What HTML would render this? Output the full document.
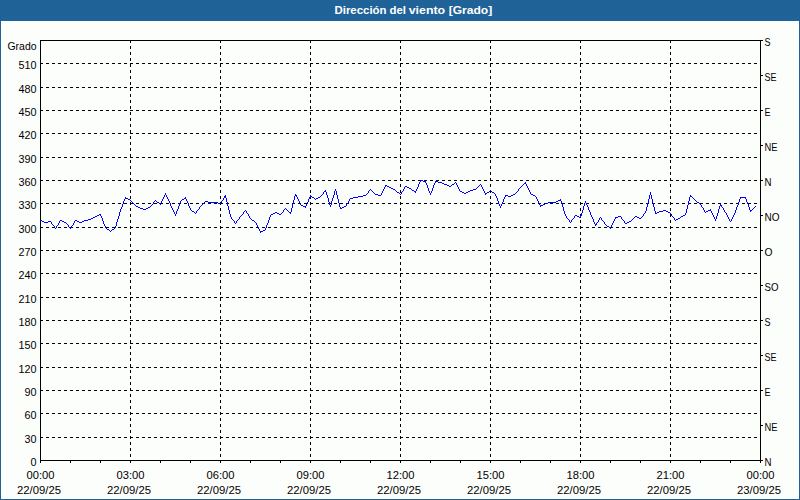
<!DOCTYPE html>
<html><head><meta charset="utf-8"><title>Dirección del viento [Grado]</title>
<style>
html,body{margin:0;padding:0;background:#fff;}
body{width:800px;height:500px;overflow:hidden;font-family:"Liberation Sans",sans-serif;}
svg{display:block;}
text{font-family:"Liberation Sans",sans-serif;font-size:11px;fill:#000;}
.t{font-weight:bold;fill:#fff;}
</style></head><body>
<svg width="800" height="500" viewBox="0 0 800 500">
<defs><pattern id="dth" x="0" y="0" width="4" height="4" patternUnits="userSpaceOnUse"><rect width="4" height="4" fill="#1f6296"/><rect x="1" y="0" width="1" height="1" fill="#2164aa"/><rect x="3" y="2" width="1" height="1" fill="#2164aa"/></pattern></defs>
<rect x="0" y="0" width="800" height="500" fill="#1f6299"/>
<rect x="0" y="0" width="800" height="21" fill="url(#dth)" shape-rendering="crispEdges"/>
<rect x="1" y="21" width="798" height="478" fill="#fff"/>
<rect x="2" y="22" width="796" height="476" fill="#fcfefc"/>
<g shape-rendering="crispEdges" stroke="#000" stroke-width="1" fill="none">
<line x1="40" y1="437.5" x2="760" y2="437.5" stroke-dasharray="3 3"/>
<line x1="40" y1="413.5" x2="760" y2="413.5" stroke-dasharray="3 3"/>
<line x1="40" y1="390.5" x2="760" y2="390.5" stroke-dasharray="3 3"/>
<line x1="40" y1="367.5" x2="760" y2="367.5" stroke-dasharray="3 3"/>
<line x1="40" y1="343.5" x2="760" y2="343.5" stroke-dasharray="3 3"/>
<line x1="40" y1="320.5" x2="760" y2="320.5" stroke-dasharray="3 3"/>
<line x1="40" y1="297.5" x2="760" y2="297.5" stroke-dasharray="3 3"/>
<line x1="40" y1="273.5" x2="760" y2="273.5" stroke-dasharray="3 3"/>
<line x1="40" y1="250.5" x2="760" y2="250.5" stroke-dasharray="3 3"/>
<line x1="40" y1="227.5" x2="760" y2="227.5" stroke-dasharray="3 3"/>
<line x1="40" y1="203.5" x2="760" y2="203.5" stroke-dasharray="3 3"/>
<line x1="40" y1="180.5" x2="760" y2="180.5" stroke-dasharray="3 3"/>
<line x1="40" y1="157.5" x2="760" y2="157.5" stroke-dasharray="3 3"/>
<line x1="40" y1="133.5" x2="760" y2="133.5" stroke-dasharray="3 3"/>
<line x1="40" y1="110.5" x2="760" y2="110.5" stroke-dasharray="3 3"/>
<line x1="40" y1="87.5" x2="760" y2="87.5" stroke-dasharray="3 3"/>
<line x1="40" y1="63.5" x2="760" y2="63.5" stroke-dasharray="3 3"/>
<line x1="130.5" y1="40" x2="130.5" y2="460" stroke-dasharray="3 3"/>
<line x1="220.5" y1="40" x2="220.5" y2="460" stroke-dasharray="3 3"/>
<line x1="310.5" y1="40" x2="310.5" y2="460" stroke-dasharray="3 3"/>
<line x1="400.5" y1="40" x2="400.5" y2="460" stroke-dasharray="3 3"/>
<line x1="490.5" y1="40" x2="490.5" y2="460" stroke-dasharray="3 3"/>
<line x1="580.5" y1="40" x2="580.5" y2="460" stroke-dasharray="3 3"/>
<line x1="670.5" y1="40" x2="670.5" y2="460" stroke-dasharray="3 3"/>
<rect x="40.5" y="40.5" width="720" height="420"/>
<line x1="40.5" y1="461" x2="40.5" y2="463"/>
<line x1="70.5" y1="461" x2="70.5" y2="463"/>
<line x1="100.5" y1="461" x2="100.5" y2="463"/>
<line x1="130.5" y1="461" x2="130.5" y2="463"/>
<line x1="160.5" y1="461" x2="160.5" y2="463"/>
<line x1="190.5" y1="461" x2="190.5" y2="463"/>
<line x1="220.5" y1="461" x2="220.5" y2="463"/>
<line x1="250.5" y1="461" x2="250.5" y2="463"/>
<line x1="280.5" y1="461" x2="280.5" y2="463"/>
<line x1="310.5" y1="461" x2="310.5" y2="463"/>
<line x1="340.5" y1="461" x2="340.5" y2="463"/>
<line x1="370.5" y1="461" x2="370.5" y2="463"/>
<line x1="400.5" y1="461" x2="400.5" y2="463"/>
<line x1="430.5" y1="461" x2="430.5" y2="463"/>
<line x1="460.5" y1="461" x2="460.5" y2="463"/>
<line x1="490.5" y1="461" x2="490.5" y2="463"/>
<line x1="520.5" y1="461" x2="520.5" y2="463"/>
<line x1="550.5" y1="461" x2="550.5" y2="463"/>
<line x1="580.5" y1="461" x2="580.5" y2="463"/>
<line x1="610.5" y1="461" x2="610.5" y2="463"/>
<line x1="640.5" y1="461" x2="640.5" y2="463"/>
<line x1="670.5" y1="461" x2="670.5" y2="463"/>
<line x1="700.5" y1="461" x2="700.5" y2="463"/>
<line x1="730.5" y1="461" x2="730.5" y2="463"/>
<line x1="760.5" y1="461" x2="760.5" y2="463"/>
<line x1="761" y1="40.5" x2="763" y2="40.5"/>
<line x1="761" y1="75.5" x2="763" y2="75.5"/>
<line x1="761" y1="110.5" x2="763" y2="110.5"/>
<line x1="761" y1="145.5" x2="763" y2="145.5"/>
<line x1="761" y1="180.5" x2="763" y2="180.5"/>
<line x1="761" y1="215.5" x2="763" y2="215.5"/>
<line x1="761" y1="250.5" x2="763" y2="250.5"/>
<line x1="761" y1="285.5" x2="763" y2="285.5"/>
<line x1="761" y1="320.5" x2="763" y2="320.5"/>
<line x1="761" y1="355.5" x2="763" y2="355.5"/>
<line x1="761" y1="390.5" x2="763" y2="390.5"/>
<line x1="761" y1="425.5" x2="763" y2="425.5"/>
<line x1="761" y1="460.5" x2="763" y2="460.5"/>
</g>
<path shape-rendering="crispEdges" fill="none" stroke="#0000ff" stroke-width="1" d="M40.5 220v1M41.5 220v1M42.5 221v1M43.5 221v1M44.5 222v1M45.5 222v1M46.5 222v1M47.5 222v1M48.5 221v1M49.5 221v1M50.5 221v1M51.5 222v2M52.5 224v1M53.5 225v1M54.5 226v2M55.5 228v1M56.5 226v2M57.5 225v1M58.5 223v2M59.5 221v2M60.5 220v1M61.5 220v1M62.5 221v1M63.5 221v1M64.5 222v1M65.5 222v1M66.5 223v1M67.5 224v1M68.5 225v2M69.5 227v1M70.5 228v1M71.5 226v2M72.5 225v1M73.5 223v2M74.5 221v2M75.5 220v1M76.5 220v1M77.5 221v1M78.5 221v1M79.5 222v1M80.5 222v1M81.5 222v1M82.5 221v1M83.5 221v1M84.5 220v1M85.5 220v1M86.5 220v1M87.5 220v1M88.5 219v1M89.5 219v1M90.5 219v1M91.5 218v1M92.5 218v1M93.5 217v1M94.5 217v1M95.5 216v1M96.5 216v1M97.5 215v1M98.5 215v1M99.5 214v1M100.5 214v2M101.5 216v2M102.5 218v3M103.5 221v3M104.5 224v2M105.5 226v2M106.5 228v1M107.5 229v1M108.5 229v1M109.5 230v1M110.5 231v1M111.5 230v1M112.5 229v1M113.5 229v1M114.5 228v1M115.5 226v2M116.5 222v4M117.5 219v3M118.5 216v3M119.5 212v4M120.5 209v3M121.5 207v2M122.5 204v3M123.5 201v3M124.5 199v2M125.5 197v2M126.5 198v1M127.5 198v1M128.5 199v1M129.5 199v1M130.5 200v1M131.5 201v1M132.5 202v1M133.5 203v1M134.5 204v1M135.5 205v1M136.5 206v1M137.5 206v1M138.5 207v1M139.5 207v1M140.5 208v1M141.5 208v1M142.5 208v1M143.5 209v1M144.5 209v1M145.5 209v1M146.5 208v1M147.5 208v1M148.5 207v1M149.5 207v1M150.5 206v1M151.5 205v1M152.5 204v1M153.5 202v2M154.5 201v1M155.5 200v1M156.5 201v1M157.5 202v1M158.5 202v1M159.5 203v1M160.5 203v2M161.5 201v2M162.5 199v2M163.5 197v2M164.5 195v2M165.5 193v2M166.5 195v2M167.5 197v2M168.5 199v2M169.5 201v2M170.5 203v3M171.5 206v2M172.5 208v2M173.5 210v2M174.5 212v2M175.5 214v2M176.5 211v3M177.5 209v2M178.5 206v3M179.5 203v3M180.5 201v2M181.5 200v1M182.5 199v1M183.5 199v1M184.5 198v1M185.5 197v2M186.5 199v2M187.5 201v2M188.5 203v3M189.5 206v2M190.5 208v2M191.5 210v1M192.5 211v1M193.5 211v1M194.5 212v1M195.5 213v1M196.5 211v2M197.5 210v1M198.5 209v1M199.5 207v2M200.5 206v1M201.5 205v1M202.5 204v1M203.5 203v1M204.5 202v1M205.5 201v1M206.5 201v1M207.5 201v1M208.5 202v1M209.5 202v1M210.5 202v1M211.5 202v1M212.5 202v1M213.5 202v1M214.5 202v1M215.5 202v1M216.5 202v1M217.5 202v1M218.5 203v1M219.5 203v1M220.5 203v1M221.5 201v2M222.5 200v1M223.5 198v2M224.5 196v2M225.5 195v3M226.5 198v4M227.5 202v4M228.5 206v4M229.5 210v4M230.5 214v3M231.5 217v2M232.5 219v1M233.5 220v1M234.5 221v2M235.5 223v1M236.5 221v2M237.5 220v1M238.5 219v1M239.5 217v2M240.5 216v1M241.5 215v1M242.5 214v1M243.5 212v2M244.5 211v1M245.5 210v1M246.5 211v2M247.5 213v1M248.5 214v2M249.5 216v2M250.5 218v1M251.5 219v1M252.5 220v1M253.5 220v1M254.5 221v1M255.5 222v1M256.5 223v2M257.5 225v2M258.5 227v2M259.5 229v2M260.5 231v2M261.5 231v1M262.5 231v1M263.5 230v1M264.5 230v1M265.5 228v2M266.5 225v3M267.5 223v2M268.5 220v3M269.5 217v3M270.5 215v2M271.5 214v1M272.5 214v1M273.5 213v1M274.5 213v1M275.5 212v1M276.5 212v1M277.5 213v1M278.5 213v1M279.5 214v1M280.5 214v1M281.5 213v1M282.5 212v1M283.5 210v2M284.5 209v1M285.5 208v1M286.5 209v1M287.5 210v1M288.5 211v1M289.5 212v1M290.5 212v2M291.5 208v4M292.5 204v4M293.5 200v4M294.5 196v4M295.5 194v2M296.5 195v2M297.5 197v2M298.5 199v2M299.5 201v2M300.5 203v2M301.5 205v1M302.5 205v1M303.5 206v1M304.5 206v1M305.5 206v2M306.5 204v2M307.5 202v2M308.5 199v3M309.5 197v2M310.5 195v2M311.5 196v1M312.5 197v1M313.5 197v1M314.5 198v1M315.5 199v1M316.5 198v1M317.5 198v1M318.5 197v1M319.5 197v1M320.5 196v1M321.5 195v1M322.5 194v1M323.5 192v2M324.5 191v1M325.5 190v2M326.5 192v3M327.5 195v3M328.5 198v4M329.5 202v3M330.5 205v2M331.5 201v4M332.5 198v3M333.5 195v3M334.5 191v4M335.5 189v2M336.5 191v4M337.5 195v4M338.5 199v4M339.5 203v4M340.5 207v2M341.5 208v1M342.5 207v1M343.5 207v1M344.5 206v1M345.5 206v1M346.5 204v2M347.5 203v1M348.5 201v2M349.5 199v2M350.5 198v1M351.5 198v1M352.5 198v1M353.5 197v1M354.5 197v1M355.5 197v1M356.5 197v1M357.5 197v1M358.5 196v1M359.5 196v1M360.5 196v1M361.5 196v1M362.5 196v1M363.5 195v1M364.5 195v1M365.5 195v1M366.5 194v1M367.5 193v1M368.5 191v2M369.5 190v1M370.5 189v1M371.5 190v1M372.5 191v1M373.5 192v1M374.5 193v1M375.5 194v1M376.5 194v1M377.5 194v1M378.5 195v1M379.5 195v1M380.5 195v1M381.5 193v2M382.5 191v2M383.5 189v2M384.5 187v2M385.5 185v2M386.5 185v1M387.5 186v1M388.5 186v1M389.5 187v1M390.5 187v1M391.5 188v1M392.5 188v1M393.5 189v1M394.5 189v1M395.5 190v1M396.5 191v1M397.5 192v1M398.5 192v1M399.5 193v1M400.5 194v1M401.5 192v2M402.5 191v1M403.5 189v2M404.5 187v2M405.5 186v1M406.5 186v1M407.5 187v1M408.5 187v1M409.5 188v1M410.5 188v1M411.5 189v1M412.5 190v1M413.5 190v1M414.5 191v1M415.5 191v2M416.5 189v2M417.5 187v2M418.5 184v3M419.5 182v2M420.5 180v2M421.5 180v1M422.5 180v1M423.5 181v1M424.5 181v1M425.5 181v2M426.5 183v2M427.5 185v3M428.5 188v3M429.5 191v2M430.5 193v2M431.5 191v2M432.5 188v3M433.5 185v3M434.5 183v2M435.5 181v2M436.5 181v1M437.5 181v1M438.5 182v1M439.5 182v1M440.5 182v1M441.5 182v1M442.5 183v1M443.5 183v1M444.5 184v1M445.5 184v1M446.5 184v1M447.5 185v1M448.5 185v1M449.5 186v1M450.5 186v1M451.5 185v1M452.5 184v1M453.5 184v1M454.5 183v1M455.5 182v1M456.5 183v2M457.5 185v2M458.5 187v2M459.5 189v2M460.5 191v1M461.5 191v1M462.5 192v1M463.5 192v1M464.5 193v1M465.5 193v1M466.5 192v1M467.5 192v1M468.5 191v1M469.5 191v1M470.5 190v1M471.5 190v1M472.5 190v1M473.5 189v1M474.5 189v1M475.5 189v1M476.5 188v1M477.5 187v1M478.5 186v1M479.5 185v1M480.5 184v1M481.5 185v2M482.5 187v2M483.5 189v2M484.5 191v2M485.5 193v2M486.5 193v1M487.5 192v1M488.5 192v1M489.5 191v1M490.5 190v1M491.5 191v1M492.5 192v1M493.5 192v1M494.5 193v1M495.5 194v2M496.5 196v2M497.5 198v3M498.5 201v3M499.5 204v2M500.5 206v2M501.5 204v2M502.5 202v2M503.5 199v3M504.5 197v2M505.5 195v2M506.5 195v1M507.5 195v1M508.5 196v1M509.5 196v1M510.5 196v1M511.5 195v1M512.5 195v1M513.5 194v1M514.5 194v1M515.5 193v1M516.5 192v1M517.5 191v1M518.5 189v2M519.5 188v1M520.5 187v1M521.5 186v1M522.5 185v1M523.5 184v1M524.5 183v1M525.5 182v2M526.5 184v2M527.5 186v2M528.5 188v2M529.5 190v2M530.5 192v2M531.5 194v1M532.5 194v1M533.5 195v1M534.5 195v1M535.5 196v1M536.5 197v2M537.5 199v2M538.5 201v2M539.5 203v2M540.5 205v2M541.5 205v1M542.5 205v1M543.5 204v1M544.5 204v1M545.5 203v1M546.5 203v1M547.5 203v1M548.5 202v1M549.5 202v1M550.5 202v1M551.5 202v1M552.5 202v1M553.5 202v1M554.5 202v1M555.5 202v1M556.5 201v1M557.5 201v1M558.5 200v1M559.5 200v1M560.5 199v2M561.5 201v3M562.5 204v3M563.5 207v4M564.5 211v3M565.5 214v2M566.5 216v2M567.5 218v1M568.5 219v1M569.5 220v2M570.5 222v1M571.5 220v2M572.5 219v1M573.5 218v1M574.5 216v2M575.5 215v1M576.5 215v1M577.5 216v1M578.5 216v1M579.5 217v1M580.5 216v2M581.5 213v3M582.5 210v3M583.5 206v4M584.5 203v3M585.5 201v2M586.5 203v2M587.5 205v2M588.5 207v3M589.5 210v2M590.5 212v3M591.5 215v2M592.5 217v2M593.5 219v3M594.5 222v2M595.5 224v2M596.5 223v2M597.5 222v1M598.5 220v2M599.5 218v2M600.5 217v1M601.5 218v2M602.5 220v1M603.5 221v1M604.5 222v2M605.5 224v1M606.5 225v1M607.5 226v1M608.5 226v1M609.5 227v1M610.5 227v2M611.5 225v2M612.5 223v2M613.5 221v2M614.5 219v2M615.5 217v2M616.5 217v1M617.5 217v1M618.5 216v1M619.5 216v1M620.5 216v1M621.5 217v2M622.5 219v1M623.5 220v1M624.5 221v2M625.5 223v1M626.5 223v1M627.5 222v1M628.5 222v1M629.5 221v1M630.5 221v1M631.5 220v1M632.5 219v1M633.5 218v1M634.5 217v1M635.5 216v1M636.5 216v1M637.5 217v1M638.5 217v1M639.5 218v1M640.5 218v1M641.5 217v1M642.5 216v1M643.5 214v2M644.5 213v1M645.5 211v2M646.5 207v4M647.5 203v4M648.5 199v4M649.5 195v4M650.5 192v3M651.5 195v4M652.5 199v4M653.5 203v4M654.5 207v4M655.5 211v3M656.5 213v1M657.5 212v1M658.5 212v1M659.5 211v1M660.5 211v1M661.5 211v1M662.5 211v1M663.5 210v1M664.5 210v1M665.5 210v1M666.5 211v1M667.5 211v1M668.5 212v1M669.5 212v1M670.5 213v1M671.5 214v2M672.5 216v1M673.5 217v1M674.5 218v2M675.5 220v1M676.5 219v1M677.5 219v1M678.5 218v1M679.5 218v1M680.5 217v1M681.5 216v1M682.5 216v1M683.5 215v1M684.5 215v1M685.5 213v2M686.5 209v4M687.5 205v4M688.5 201v4M689.5 197v4M690.5 195v2M691.5 196v1M692.5 197v1M693.5 198v1M694.5 199v1M695.5 200v1M696.5 201v1M697.5 202v1M698.5 202v1M699.5 203v1M700.5 204v1M701.5 205v2M702.5 207v1M703.5 208v2M704.5 210v2M705.5 212v1M706.5 211v1M707.5 211v1M708.5 210v1M709.5 210v1M710.5 209v2M711.5 211v2M712.5 213v2M713.5 215v2M714.5 217v2M715.5 219v2M716.5 216v3M717.5 213v3M718.5 209v4M719.5 206v3M720.5 204v2M721.5 205v2M722.5 207v1M723.5 208v2M724.5 210v2M725.5 212v1M726.5 213v2M727.5 215v2M728.5 217v2M729.5 219v2M730.5 221v1M731.5 219v2M732.5 217v2M733.5 215v2M734.5 213v2M735.5 210v3M736.5 207v3M737.5 205v2M738.5 202v3M739.5 199v3M740.5 197v2M741.5 197v1M742.5 197v1M743.5 197v1M744.5 197v1M745.5 197v2M746.5 199v3M747.5 202v2M748.5 204v3M749.5 207v3M750.5 210v2M751.5 210v1M752.5 209v1M753.5 208v1M754.5 207v1M755.5 206v1"/>
<text x="334.5" y="14" class="t" textLength="52" lengthAdjust="spacingAndGlyphs">Dirección</text>
<text x="389.5" y="14" class="t" textLength="16.5" lengthAdjust="spacingAndGlyphs">del</text>
<text x="408.7" y="14" class="t" textLength="36.5" lengthAdjust="spacingAndGlyphs">viento</text>
<text x="448.7" y="14" class="t" textLength="43.5" lengthAdjust="spacingAndGlyphs">[Grado]</text>
<text x="7.5" y="50" textLength="29" lengthAdjust="spacingAndGlyphs">Grado</text>
<text x="30.5" y="466" textLength="6" lengthAdjust="spacingAndGlyphs">0</text>
<text x="24.5" y="443" textLength="12" lengthAdjust="spacingAndGlyphs">30</text>
<text x="24.5" y="419" textLength="12" lengthAdjust="spacingAndGlyphs">60</text>
<text x="24.5" y="396" textLength="12" lengthAdjust="spacingAndGlyphs">90</text>
<text x="18.5" y="373" textLength="18" lengthAdjust="spacingAndGlyphs">120</text>
<text x="18.5" y="349" textLength="18" lengthAdjust="spacingAndGlyphs">150</text>
<text x="18.5" y="326" textLength="18" lengthAdjust="spacingAndGlyphs">180</text>
<text x="18.5" y="303" textLength="18" lengthAdjust="spacingAndGlyphs">210</text>
<text x="18.5" y="279" textLength="18" lengthAdjust="spacingAndGlyphs">240</text>
<text x="18.5" y="256" textLength="18" lengthAdjust="spacingAndGlyphs">270</text>
<text x="18.5" y="233" textLength="18" lengthAdjust="spacingAndGlyphs">300</text>
<text x="18.5" y="209" textLength="18" lengthAdjust="spacingAndGlyphs">330</text>
<text x="18.5" y="186" textLength="18" lengthAdjust="spacingAndGlyphs">360</text>
<text x="18.5" y="163" textLength="18" lengthAdjust="spacingAndGlyphs">390</text>
<text x="18.5" y="139" textLength="18" lengthAdjust="spacingAndGlyphs">420</text>
<text x="18.5" y="116" textLength="18" lengthAdjust="spacingAndGlyphs">450</text>
<text x="18.5" y="93" textLength="18" lengthAdjust="spacingAndGlyphs">480</text>
<text x="18.5" y="69" textLength="18" lengthAdjust="spacingAndGlyphs">510</text>
<text x="764.5" y="46" textLength="6" lengthAdjust="spacingAndGlyphs">S</text>
<text x="764.5" y="81" textLength="12" lengthAdjust="spacingAndGlyphs">SE</text>
<text x="764.5" y="116" textLength="6" lengthAdjust="spacingAndGlyphs">E</text>
<text x="764.5" y="151" textLength="13" lengthAdjust="spacingAndGlyphs">NE</text>
<text x="764.5" y="186" textLength="7" lengthAdjust="spacingAndGlyphs">N</text>
<text x="764.5" y="221" textLength="15" lengthAdjust="spacingAndGlyphs">NO</text>
<text x="764.5" y="256" textLength="8" lengthAdjust="spacingAndGlyphs">O</text>
<text x="764.5" y="291" textLength="14" lengthAdjust="spacingAndGlyphs">SO</text>
<text x="764.5" y="326" textLength="6" lengthAdjust="spacingAndGlyphs">S</text>
<text x="764.5" y="361" textLength="12" lengthAdjust="spacingAndGlyphs">SE</text>
<text x="764.5" y="396" textLength="6" lengthAdjust="spacingAndGlyphs">E</text>
<text x="764.5" y="431" textLength="13" lengthAdjust="spacingAndGlyphs">NE</text>
<text x="764.5" y="466" textLength="7" lengthAdjust="spacingAndGlyphs">N</text>
<text x="26.5" y="479" textLength="28" lengthAdjust="spacingAndGlyphs">00:00</text>
<text x="17" y="494" textLength="44" lengthAdjust="spacingAndGlyphs">22/09/25</text>
<text x="116.5" y="479" textLength="28" lengthAdjust="spacingAndGlyphs">03:00</text>
<text x="107" y="494" textLength="44" lengthAdjust="spacingAndGlyphs">22/09/25</text>
<text x="206.5" y="479" textLength="28" lengthAdjust="spacingAndGlyphs">06:00</text>
<text x="197" y="494" textLength="44" lengthAdjust="spacingAndGlyphs">22/09/25</text>
<text x="296.5" y="479" textLength="28" lengthAdjust="spacingAndGlyphs">09:00</text>
<text x="287" y="494" textLength="44" lengthAdjust="spacingAndGlyphs">22/09/25</text>
<text x="386.5" y="479" textLength="28" lengthAdjust="spacingAndGlyphs">12:00</text>
<text x="377" y="494" textLength="44" lengthAdjust="spacingAndGlyphs">22/09/25</text>
<text x="476.5" y="479" textLength="28" lengthAdjust="spacingAndGlyphs">15:00</text>
<text x="467" y="494" textLength="44" lengthAdjust="spacingAndGlyphs">22/09/25</text>
<text x="566.5" y="479" textLength="28" lengthAdjust="spacingAndGlyphs">18:00</text>
<text x="557" y="494" textLength="44" lengthAdjust="spacingAndGlyphs">22/09/25</text>
<text x="656.5" y="479" textLength="28" lengthAdjust="spacingAndGlyphs">21:00</text>
<text x="647" y="494" textLength="44" lengthAdjust="spacingAndGlyphs">22/09/25</text>
<text x="746.5" y="479" textLength="28" lengthAdjust="spacingAndGlyphs">00:00</text>
<text x="737" y="494" textLength="44" lengthAdjust="spacingAndGlyphs">23/09/25</text>
</svg>
</body></html>
